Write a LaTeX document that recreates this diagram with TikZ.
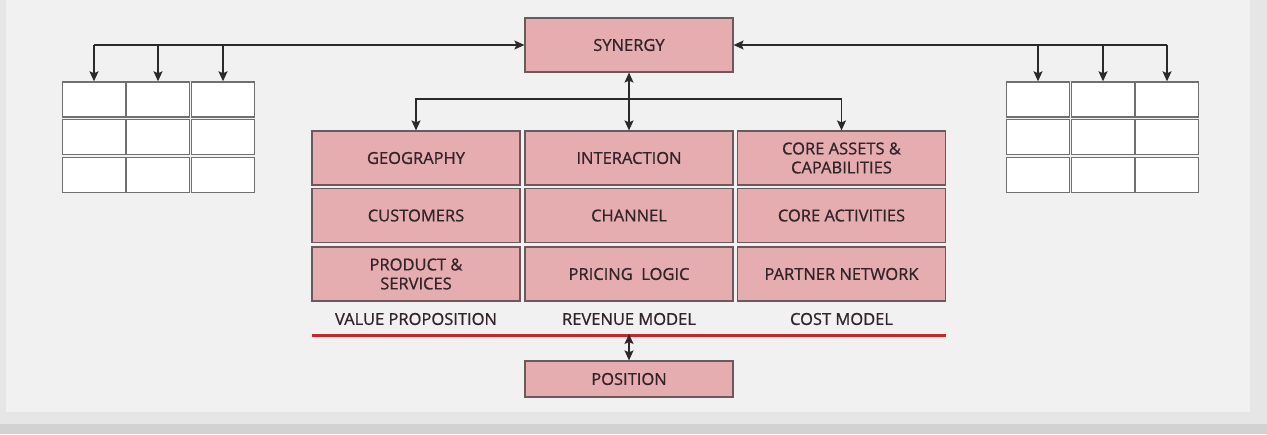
\documentclass[tikz,border=0pt]{standalone}
\usepackage{fontspec}
\setmainfont{Open Sans}[FakeBold=0.9]
\usetikzlibrary{arrows.meta}
\definecolor{bg}{HTML}{F1F1F1}
\definecolor{edge}{HTML}{E6E6E6}
\definecolor{band}{HTML}{D2D2D2}
\definecolor{pinkfill}{HTML}{E6ADB1}
\definecolor{boxline}{HTML}{6A5A5C}
\definecolor{txt}{HTML}{33242A}
\definecolor{cellline}{HTML}{707070}
\definecolor{redline}{HTML}{C4262E}
\definecolor{conn}{HTML}{2A2A2A}
\tikzset{
  x=1pt, y=-1pt,
  pinkbox/.style={draw=boxline, line width=1.2pt, fill=pinkfill, minimum width=208pt, minimum height=54pt,
    inner sep=0pt, align=center, text=txt, font=\fontsize{16.5}{19}\selectfont},
  cell/.style={draw=cellline, line width=1.4pt, fill=white, minimum width=63pt, minimum height=35pt, inner sep=0pt},
  lbl/.style={text=txt, font=\fontsize{16.5}{19}\selectfont, inner sep=0pt},
  arr/.style={draw=conn, line width=1.2pt, -{Stealth[length=10pt,width=9pt,inset=2pt]}},
  dbl/.style={draw=conn, line width=1.2pt, {Stealth[length=10pt,width=9pt,inset=2pt]}-{Stealth[length=10pt,width=9pt,inset=2pt]}},
}
\begin{document}
\begin{tikzpicture}
% background
\fill[edge] (0,0) rectangle (1267,434);
\fill[bg] (6,0) rectangle (1250,412);
\fill[edge] (6,412) rectangle (1250,424);
\fill[band] (0,424) rectangle (1267,434);
\useasboundingbox (0,0) rectangle (1267,434);

% left grid
\foreach \r/\y in {1/99.5,2/137,3/175}{
  \foreach \c/\x in {1/94,2/158,3/223}{
    \node[cell] (L\r\c) at (\x,\y) {};
  }
}
% right grid
\foreach \r/\y in {1/99.5,2/137,3/175}{
  \foreach \c/\x in {1/1038,2/1103,3/1167}{
    \node[cell] (R\r\c) at (\x,\y) {};
  }
}

% synergy
\node[pinkbox] (syn) at (629,45) {SYNERGY};

% main grid
\node[pinkbox] (g11) at (416,158) {GEOGRAPHY};
\node[pinkbox] (g12) at (629,158) {INTERACTION};
\node[pinkbox] (g13) at (841.5,158) {CORE ASSETS \&\\CAPABILITIES};
\node[pinkbox] (g21) at (416,215.5) {CUSTOMERS};
\node[pinkbox] (g22) at (629,215.5) {CHANNEL};
\node[pinkbox] (g23) at (841.5,215.5) {CORE ACTIVITIES};
\node[pinkbox] (g31) at (416,274) {PRODUCT \&\\SERVICES};
\node[pinkbox] (g32) at (629,274) {PRICING\ \ LOGIC};
\node[pinkbox] (g33) at (841.5,274) {PARTNER NETWORK};

% labels
\node[lbl] (l1) at (416,319) {VALUE PROPOSITION};
\node[lbl] (l2) at (629,319) {REVENUE MODEL};
\node[lbl] (l3) at (841.5,319) {COST MODEL};

% red line
\coordinate (rl) at (312,335.5);
\coordinate (rr) at (946,335.5);
\coordinate (rm) at (629,335.5);
\draw[redline, line width=3pt] (rl) -- (rr);

% position
\node[pinkbox, minimum height=36pt] (pos) at (629,379) {POSITION};

% connectors: left
\coordinate (lj) at (94,45);
\draw[arr] (lj) -- (syn.west);
\draw[arr] (lj) -- (L11.north);
\draw[arr] (L12.north |- lj) -- (L12.north);
\draw[arr] (L13.north |- lj) -- (L13.north);
% right
\coordinate (rj) at (1167,45);
\draw[arr] (rj) -- (syn.east);
\draw[arr] (rj) -- (R13.north);
\draw[arr] (R11.north |- rj) -- (R11.north);
\draw[arr] (R12.north |- rj) -- (R12.north);
% middle
\coordinate (bj) at (629,99);
\draw[dbl] (syn.south) -- (g12.north);
\draw[arr] (bj) -| (g11.north);
\draw[arr] (bj) -| (g13.north);
% position
\draw[dbl] ([yshift=1.5pt]rm) -- (pos.north);
\end{tikzpicture}
\end{document}
